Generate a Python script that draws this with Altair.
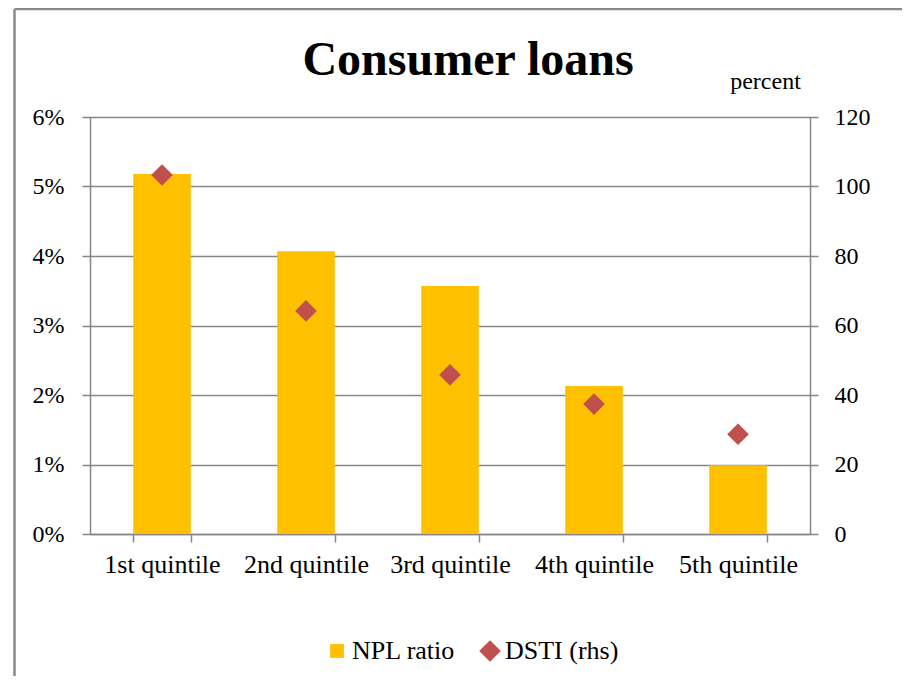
import altair as alt
import pandas as pd

categories = ["1st quintile", "2nd quintile", "3rd quintile", "4th quintile", "5th quintile"]
npl_ratio = [5.18, 4.07, 3.57, 2.13, 0.99]   # percent, left axis
dsti = [103.3, 64.2, 45.8, 37.4, 28.7]       # percent, right axis
series_names = ["NPL ratio", "DSTI (rhs)"]
series_colors = ["#FFC000", "#C0504D"]
series_shapes = ["square", "diamond"]
series_sizes = [190, 470]
left_ticks = [0, 1, 2, 3, 4, 5, 6]
right_ticks = [0, 20, 40, 60, 80, 100, 120]

FONT = "Liberation Serif"
GRAY = "#868686"

df = pd.DataFrame({"category": categories, "npl": npl_ratio, "dsti": dsti})
frame_df = pd.DataFrame({"k": [0]})

x_enc = alt.X(
    "category:N", sort=categories,
    scale=alt.Scale(paddingInner=0.6, paddingOuter=0.3),
    axis=alt.Axis(title=None, labelAngle=0, tickBand="extent", tickSize=8,
                  tickColor=GRAY, tickWidth=1.5, domainColor=GRAY, domainWidth=1.5,
                  labelFont=FONT, labelFontSize=26, labelColor="black", labelPadding=9,
                  grid=False),
)

color_scale = alt.Scale(domain=series_names, range=series_colors)
shape_scale = alt.Scale(domain=series_names, range=series_shapes)
size_scale = alt.Scale(domain=series_names, range=series_sizes)

legend = alt.Legend(title=None, orient="none", direction="horizontal",
                    legendX=234, legendY=521, padding=0,
                    labelFont=FONT, labelFontSize=26, labelColor="black",
                    labelOffset=2, columnPadding=21, symbolStrokeWidth=0)

bars = alt.Chart(df).transform_calculate(series="'NPL ratio'").mark_bar().encode(
    x=x_enc,
    y=alt.Y("npl:Q", scale=alt.Scale(domain=[0, 6], nice=False),
            axis=alt.Axis(orient="left", values=left_ticks, labelExpr="datum.value + '%'",
                          title=None, grid=True, gridColor=GRAY, gridWidth=1.5,
                          tickSize=8, tickColor=GRAY, tickWidth=1.5,
                          domainColor=GRAY, domainWidth=1.5,
                          labelFont=FONT, labelFontSize=24, labelColor="black",
                          labelPadding=18)),
    color=alt.Color("series:N", scale=color_scale, legend=legend),
)

points = alt.Chart(df).transform_calculate(series="'DSTI (rhs)'").mark_point(
    filled=True, opacity=1, strokeWidth=0
).encode(
    x=x_enc,
    y=alt.Y("dsti:Q", scale=alt.Scale(domain=[0, 120], nice=False),
            axis=alt.Axis(orient="right", values=right_ticks, grid=False,
                          tickSize=8, tickColor=GRAY, tickWidth=1.5,
                          domainColor=GRAY, domainWidth=1.5,
                          labelFont=FONT, labelFontSize=24, labelColor="black",
                          labelPadding=16,
                          title="percent", titleAngle=0, titleX=-45, titleY=-29,
                          titleAlign="center", titleBaseline="alphabetic",
                          titleFont=FONT, titleFontSize=24, titleFontWeight="normal",
                          titleColor="black")),
    color=alt.Color("series:N", scale=color_scale, legend=legend),
    shape=alt.Shape("series:N", scale=shape_scale, legend=legend),
    size=alt.Size("series:N", scale=size_scale, legend=legend),
)

border_top = alt.Chart(frame_df).mark_rule(color="#8a8a8a", strokeWidth=2.5).encode(
    x=alt.value(-75.5), x2=alt.value(830), y=alt.value(-108))
border_left = alt.Chart(frame_df).mark_rule(color="#8a8a8a", strokeWidth=2.5).encode(
    x=alt.value(-75.5), y=alt.value(-108), y2=alt.value(570))

chart = alt.layer(border_top, border_left, bars, points).resolve_scale(
    y="independent"
).properties(
    width=720, height=417,
    autosize=alt.AutoSizeParams(type="none"),
    padding={"left": 82, "top": 109, "right": 92, "bottom": 142},
    title=alt.TitleParams("Consumer loans", font=FONT, fontSize=48, fontWeight="bold",
                          color="black", anchor="middle", frame="group", dx=18,
                          baseline="alphabetic", offset=-115),
).configure_view(stroke=None)

chart.save("out.html", embed_options={"renderer": "svg", "actions": False})
